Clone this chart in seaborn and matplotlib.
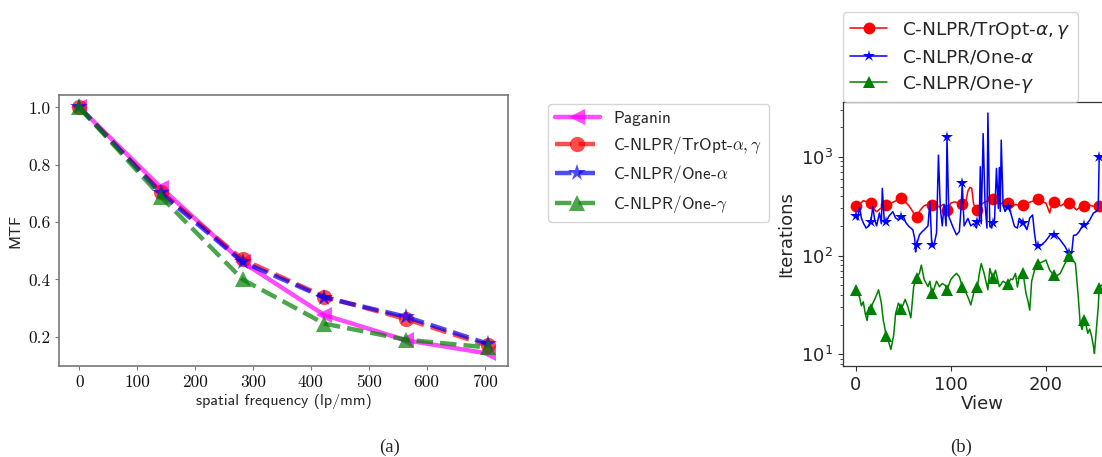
import matplotlib
matplotlib.use("Agg")
import matplotlib.pyplot as plt
from matplotlib.font_manager import FontProperties
import seaborn as sns
import pandas as pd

# ---------------- Panel (a) data ----------------
freq = [0, 141, 282, 423, 564, 705]
mtf_paganin = [1.0, 0.72, 0.46, 0.276, 0.188, 0.142]
mtf_tropt = [1.0, 0.705, 0.47, 0.34, 0.262, 0.17]
mtf_one_alpha = [1.0, 0.70, 0.461, 0.337, 0.27, 0.176]
mtf_one_gamma = [1.0, 0.688, 0.40, 0.246, 0.19, 0.163]
xticks_a = [0, 100, 200, 300, 400, 500, 600, 700]
yticks_a = [0.2, 0.4, 0.6, 0.8, 1.0]

# ---------------- Panel (b) data ----------------
view_tropt = [0, 4, 8, 12, 16, 20, 22, 26, 30, 32, 36, 40, 44, 48, 52, 56, 60, 62, 64, 68,
              72, 76, 80, 84, 88, 92, 96, 100, 104, 108, 112, 116, 118, 120, 122, 124, 128,
              132, 136, 140, 144, 148, 152, 156, 160, 164, 168, 172, 176, 180, 184, 188, 192,
              196, 200, 204, 206, 208, 212, 216, 220, 224, 228, 232, 236, 240, 244, 248, 252,
              256, 260, 264]
iter_tropt = [318, 330, 360, 350, 338, 290, 278, 300, 320, 328, 335, 350, 365, 380, 350, 320,
              280, 248, 248, 290, 320, 330, 328, 320, 310, 330, 290, 340, 350, 340, 330, 360,
              450, 490, 480, 330, 290, 330, 350, 360, 372, 345, 330, 350, 338, 310, 330, 320,
              325, 340, 350, 360, 372, 350, 340, 270, 320, 352, 330, 320, 340, 342, 320, 290,
              310, 318, 330, 320, 310, 318, 320, 310]

view_one_alpha = [0, 2, 4, 6, 8, 11, 14, 16, 18, 20, 22, 25, 27, 28, 30, 32, 35, 39, 42, 45,
                  48, 50, 53, 56, 60, 62, 63, 64, 67, 70, 72, 76, 78, 80, 82, 85, 87, 89, 91,
                  93, 95, 96, 98, 102, 106, 109, 111, 112, 114, 118, 121, 124, 127, 128, 130,
                  131, 132, 134, 136, 138, 139, 141, 143, 144, 146, 148, 150, 151, 152, 153,
                  155, 157, 160, 163, 167, 170, 172, 176, 180, 183, 186, 188, 190, 192, 196,
                  199, 202, 205, 208, 211, 215, 220, 224, 227, 229, 232, 235, 238, 240, 242,
                  246, 250, 253, 255, 256, 258, 264]
iter_one_alpha = [251, 230, 313, 240, 214, 190, 200, 220, 313, 230, 200, 270, 210, 480, 230,
                  220, 251, 278, 240, 230, 246, 250, 214, 197, 183, 150, 109, 128, 162, 175,
                  182, 200, 352, 128, 123, 170, 1040, 300, 200, 330, 200, 1590, 248, 197, 162,
                  175, 330, 538, 200, 238, 200, 210, 190, 220, 230, 793, 210, 1720, 330, 190,
                  2780, 200, 190, 212, 230, 763, 300, 780, 280, 1475, 320, 280, 313, 270, 197,
                  190, 238, 215, 183, 240, 258, 168, 124, 124, 130, 138, 150, 165, 162, 160,
                  144, 124, 105, 105, 160, 162, 175, 197, 205, 205, 229, 270, 280, 300, 1000,
                  1000, 900]

view_one_gamma = [0, 2, 4, 6, 8, 10, 12, 14, 16, 18, 20, 22, 24, 27, 29, 30, 32, 34, 37, 40,
                  42, 45, 48, 50, 52, 55, 58, 61, 64, 67, 69, 72, 76, 78, 80, 82, 85, 88, 91,
                  94, 96, 100, 103, 106, 109, 112, 116, 119, 121, 125, 128, 130, 132, 135, 139,
                  141, 144, 147, 151, 155, 160, 163, 165, 168, 170, 172, 176, 179, 181, 183,
                  185, 188, 192, 196, 200, 204, 208, 211, 215, 220, 224, 228, 231, 233, 234,
                  236, 238, 240, 242, 244, 246, 248, 250, 251, 253, 255, 256, 258, 264]
iter_one_gamma = [45, 42, 38, 31, 34, 26, 22, 30, 29, 33, 36, 40, 45, 33, 22, 20, 15.3, 14,
                  11.2, 15.7, 26, 33, 28.7, 32, 36, 30, 23.4, 48.5, 59, 66, 80, 57, 48.5, 55,
                  41.7, 45, 55, 48.5, 52, 50, 45, 57, 62, 66, 61, 48.5, 42, 36, 31.6, 45, 48.5,
                  66, 83, 66, 45, 74, 59, 71, 48.5, 55, 51, 58, 57, 66, 48, 61, 66, 41.7, 35,
                  28, 55, 71, 83, 86, 90, 71, 64, 62, 66, 83, 98, 90, 83, 50, 38, 20.7, 17.8,
                  22.4, 20, 16.3, 18, 15.3, 12, 10.2, 17.8, 30, 47, 50, 48]

labels_a = ["Paganin", r"C-NLPR/TrOpt-$\alpha,\gamma$", r"C-NLPR/One-$\alpha$", r"C-NLPR/One-$\gamma$"]
labels_b = [r"C-NLPR/TrOpt-$\alpha, \gamma$", r"C-NLPR/One-$\alpha$", r"C-NLPR/One-$\gamma$"]

sns.set_style("ticks")
plt.rcParams["font.family"] = ["DejaVu Sans"]
plt.rcParams["mathtext.fontset"] = "dejavusans"

fig = plt.figure(figsize=(11.02, 4.57), dpi=100)

# ---------------- Panel (a) ----------------
ax1 = fig.add_axes([0.0535, 0.199, 0.4074, 0.593])
series_a = [mtf_paganin, mtf_tropt, mtf_one_alpha, mtf_one_gamma]
colors_a = ["magenta", "red", "blue", "green"]
markers_a = ["<", "o", "*", "^"]
styles_a = ["-", "--", "--", "--"]
msizes_a = [11, 11, 13, 11]
for vals, lab, c, m, ls, ms in zip(series_a, labels_a, colors_a, markers_a, styles_a, msizes_a):
    df = pd.DataFrame({"f": freq, "v": vals})
    sns.lineplot(data=df, x="f", y="v", ax=ax1, color=c, marker=m, linestyle=ls,
                 linewidth=3.2, markersize=ms, alpha=0.7, label=lab, estimator=None,
                 markeredgewidth=0)
ax1.set_xlim(-35.25, 740.25)
ax1.set_ylim(0.098, 1.043)
tick_font = FontProperties(family="cmr10", size=12.5)
ax1.set_xticks(xticks_a)
ax1.set_xticklabels([str(t) for t in xticks_a], fontproperties=tick_font, color="#111111")
ax1.set_yticks(yticks_a)
ax1.set_yticklabels([f"{t:.1f}" for t in yticks_a], fontproperties=tick_font, color="#111111")
ax1.set_xlabel("spatial frequency (lp/mm)", fontfamily="cmss10", fontsize=11.5, labelpad=3)
ax1.set_ylabel("MTF", fontfamily="cmss10", fontsize=11.5, labelpad=4)
for sp in ax1.spines.values():
    sp.set_visible(True)
    sp.set_color("#777777")
    sp.set_linewidth(1.2)
ax1.tick_params(length=3, width=0.8, color="#777777", pad=3)
leg_a_font = FontProperties(family="cmss10", size=12.3, math_fontfamily="cm")
leg1 = ax1.legend(loc="upper left", bbox_to_anchor=(1.09, 0.967), borderaxespad=0,
                  prop=leg_a_font, handlelength=2.6, frameon=True, fancybox=True,
                  labelspacing=0.45)
leg1.get_frame().set_edgecolor("#cccccc")

# ---------------- Panel (b) ----------------
ax2 = fig.add_axes([0.765, 0.199, 0.2523, 0.578])
series_b = [(view_tropt, iter_tropt), (view_one_alpha, iter_one_alpha), (view_one_gamma, iter_one_gamma)]
colors_b = ["red", "blue", "green"]
markers_b = ["o", "*", "^"]
msizes_b = [8.5, 9, 8.5]
for (vx, vy), lab, c, m, ms in zip(series_b, labels_b, colors_b, markers_b, msizes_b):
    df = pd.DataFrame({"view": vx, "it": vy})
    mk = [i for i, v in enumerate(vx) if v % 16 == 0]
    sns.lineplot(data=df, x="view", y="it", ax=ax2, color=c, marker=m, markevery=mk,
                 linewidth=1.1, markersize=ms, label=lab, estimator=None, sort=False,
                 markeredgewidth=0)
ax2.set_yscale("log")
ax2.set_xlim(-13.3, 279)
ax2.set_ylim(7.6, 3600)
ax2.set_xticks([0, 100, 200])
ax2.tick_params(axis="both", which="major", labelsize=13, length=3.5, width=0.8, color="#333333")
ax2.tick_params(axis="y", which="minor", length=2, width=0.6, color="#333333")
ax2.set_xlabel("View", fontsize=13, labelpad=1)
ax2.set_ylabel("Iterations", fontsize=13, labelpad=4)
for sp in ax2.spines.values():
    sp.set_visible(True)
    sp.set_color("#333333")
    sp.set_linewidth(0.9)
leg_b_font = FontProperties(family="DejaVu Sans", size=13.3, math_fontfamily="dejavusans")
leg2 = ax2.legend(loc="lower left", bbox_to_anchor=(0.0, 1.0), borderaxespad=0,
                  prop=leg_b_font, handlelength=2.0, frameon=True, labelspacing=0.4)
leg2.get_frame().set_edgecolor("#cccccc")

# ---------------- Captions ----------------
fig.text(390 / 1102, 1 - 447 / 457, "(a)", fontfamily="Liberation Serif", fontsize=13.5,
         ha="center", va="center")
fig.text(961 / 1102, 1 - 447 / 457, "(b)", fontfamily="Liberation Serif", fontsize=13.5,
         ha="center", va="center")

fig.savefig("out.png", dpi=100)
